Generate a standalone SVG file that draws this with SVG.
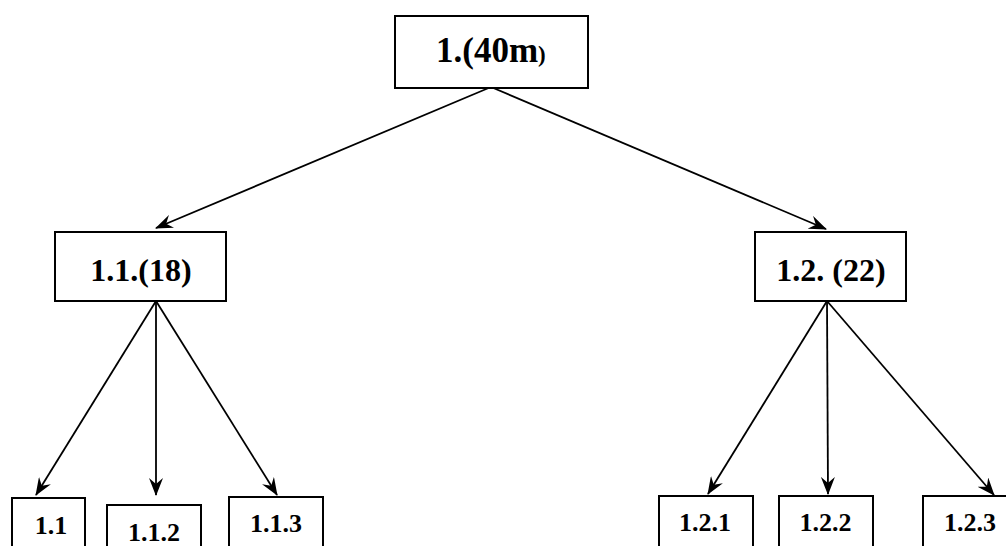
<svg xmlns="http://www.w3.org/2000/svg" width="1006" height="546" viewBox="0 0 1006 546">
<style>
.box{fill:#fff;stroke:#000;stroke-width:2}
.t{font-family:"Liberation Serif","Times New Roman",serif;font-weight:bold;fill:#000;text-anchor:middle}
.c{stroke:#000;stroke-width:1.8;fill:none;marker-end:url(#ah)}
</style>
<defs>
<marker id="ah" viewBox="0 0 18 14" refX="17" refY="7" markerWidth="18" markerHeight="14" markerUnits="userSpaceOnUse" orient="auto">
<path d="M0,0 L18,7 L0,14 L6,7 Z" fill="#000"/>
</marker>
</defs>
<rect width="1006" height="546" fill="#fff"/>
<g id="connectors">
<line class="c" x1="491" y1="87" x2="156" y2="228"/>
<line class="c" x1="491" y1="87" x2="826" y2="229"/>
<line class="c" x1="156" y1="301" x2="36" y2="495"/>
<line class="c" x1="156" y1="301" x2="156" y2="495"/>
<line class="c" x1="156" y1="301" x2="277" y2="495"/>
<line class="c" x1="827" y1="301" x2="708" y2="494"/>
<line class="c" x1="827" y1="301" x2="828" y2="494"/>
<line class="c" x1="827" y1="301" x2="994" y2="495"/>
</g>
<g id="n1">
<rect class="box" x="395" y="16" width="193" height="72"/>
<text class="t" x="436" y="62" style="text-anchor:start" font-size="35">1.(40m<tspan font-size="23">)</tspan></text>
</g>
<g id="n11">
<rect class="box" x="55" y="232" width="171" height="69"/>
<text class="t" x="141" y="281" font-size="32">1.1.(18)</text>
</g>
<g id="n12">
<rect class="box" x="755" y="232" width="151" height="69"/>
<text class="t" x="831" y="281" font-size="32">1.2. (22)</text>
</g>
<g id="n111">
<rect class="box" x="12" y="498" width="73" height="70"/>
<text class="t" x="51" y="534" font-size="26">1.1</text>
</g>
<g id="n112">
<rect class="box" x="107" y="505" width="94" height="70"/>
<text class="t" x="154" y="541" font-size="26">1.1.2</text>
</g>
<g id="n113">
<rect class="box" x="229" y="497" width="94" height="70"/>
<text class="t" x="276" y="532" font-size="26">1.1.3</text>
</g>
<g id="n121">
<rect class="box" x="659" y="496" width="94" height="70"/>
<text class="t" x="705" y="531" font-size="26">1.2.1</text>
</g>
<g id="n122">
<rect class="box" x="779" y="496" width="94" height="70"/>
<text class="t" x="825.5" y="531" font-size="26">1.2.2</text>
</g>
<g id="n123">
<rect class="box" x="923" y="496" width="86" height="70"/>
<text class="t" x="970" y="531" font-size="26">1.2.3</text>
</g>
</svg>
